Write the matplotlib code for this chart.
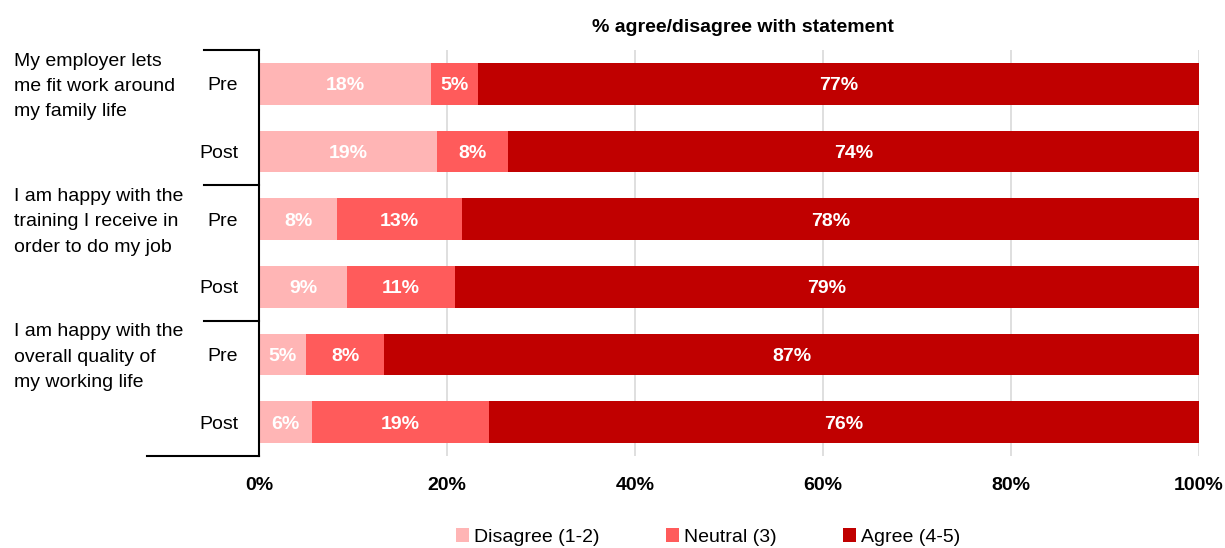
import matplotlib
matplotlib.use("Agg")
import matplotlib.pyplot as plt
from matplotlib.lines import Line2D
from matplotlib.transforms import blended_transform_factory
from matplotlib.patches import Patch

plt.rcParams['font.family'] = ['Liberation Sans', 'DejaVu Sans']

statements = [
    "My employer lets\nme fit work around\nmy family life",
    "I am happy with the\ntraining I receive in\norder to do my job",
    "I am happy with the\noverall quality of\nmy working life",
]
periods = ["Pre", "Post"]
series_names = ["Disagree (1-2)", "Neutral (3)", "Agree (4-5)"]

# Share of respondents (%) per row, in order: statement 1 Pre/Post, 2 Pre/Post, 3 Pre/Post
disagree = [18.3, 18.9, 8.3, 9.4, 5.0, 5.6]
neutral = [5.0, 7.6, 13.3, 11.4, 8.3, 18.9]
agree = [76.7, 73.5, 78.4, 79.2, 86.7, 75.5]

x_ticks = [0, 20, 40, 60, 80, 100]
colors = ["#FFB5B5", "#FF5B5B", "#C00000"]

fig = plt.figure(figsize=(12.25, 5.48), dpi=100)
ax = fig.add_axes([259 / 1225, 92 / 548, 940 / 1225, 406 / 548])

rows = list(range(len(disagree)))
left = [0.0] * len(rows)
for vals, color, name in zip([disagree, neutral, agree], colors, series_names):
    bars = ax.barh(rows, vals, left=left, height=0.62, color=color, label=name, zorder=2)
    for b, v in zip(bars, vals):
        ax.text(b.get_x() + b.get_width() / 2, b.get_y() + b.get_height() / 2,
                f"{int(v + 0.5)}%", ha="center", va="center_baseline", color="white",
                fontsize=14, fontweight="bold", zorder=3)
    left = [l + v for l, v in zip(left, vals)]

ax.set_xlim(0, 100)
ax.set_ylim(len(rows) - 0.5, -0.5)
ax.set_xticks(x_ticks)
ax.set_xticklabels([f"{t}%" for t in x_ticks], fontsize=14, fontweight="bold")
ax.tick_params(axis="x", length=0, pad=15)
ax.set_yticks(rows)
ax.set_yticklabels(periods * len(statements), fontsize=14)
ax.tick_params(axis="y", length=0, pad=15)
ax.grid(axis="x", color="#D9D9D9", linewidth=1.2, zorder=0)
for s in ["top", "right", "bottom"]:
    ax.spines[s].set_visible(False)
ax.spines["left"].set_linewidth(1.5)
ax.spines["left"].set_color("black")

# Multi-level category axis: group labels and separators
trans = blended_transform_factory(ax.transAxes, ax.transData)
for i, label in enumerate(statements):
    ax.text(-0.2606, 2 * i + 0.04, label, transform=trans, ha="left", va="center",
            fontsize=14, linespacing=1.65)
for k in range(len(statements) + 1):
    y = 2 * k - 0.5
    x0 = -0.119 if k == len(statements) else -0.0585
    ax.add_line(Line2D([x0, 0], [y, y], transform=trans, color="black",
                       linewidth=1.5, clip_on=False))

ax.set_title("% agree/disagree with statement", fontsize=14, fontweight="bold",
             x=0.515, pad=13)

handles = [Patch(facecolor=c, label=n) for c, n in zip(colors, series_names)]
fig.legend(handles=handles, loc="center", bbox_to_anchor=(0.578, 0.020), ncol=3,
           frameon=False, fontsize=14, handlelength=0.67, handleheight=0.67,
           handletextpad=0.26, columnspacing=3.4, borderpad=0.2)

fig.savefig("out.png", dpi=100)
